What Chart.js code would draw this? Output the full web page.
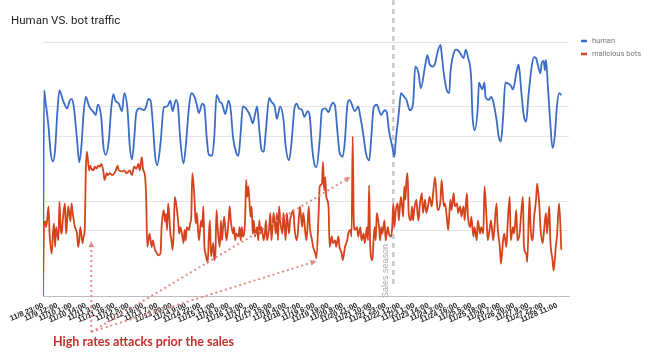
<!DOCTYPE html>
<html>
<head>
<meta charset="utf-8">
<script src="https://cdn.jsdelivr.net/npm/chart.js@4.4.1/dist/chart.umd.min.js"></script>
<style>
  html, body { margin: 0; padding: 0; background: #ffffff; }
  #wrap { width: 648px; height: 357px; }
</style>
</head>
<body>
<div id="wrap"><canvas id="c" width="648" height="357"></canvas></div>
<script>
// ---- Data (hours counted from 11/8 23:00) ----
const chartTitle = 'Human VS. bot traffic';
const seriesNames = ['human', 'malicious bots'];
const tickLabels = ['11/8 23:00','11/9 12:00','11/10 1:00','11/10 14:00','11/11 3:00','11/11 16:00','11/12 5:00','11/12 18:00','11/13 7:00','11/13 20:00','11/14 9:00','11/14 22:00','11/15 11:00','11/16 0:00','11/16 13:00','11/17 2:00','11/17 15:00','11/18 4:00','11/18 17:00','11/19 6:00','11/19 19:00','11/20 8:00','11/20 21:00','11/21 10:00','11/21 23:00','11/22 12:00','11/23 1:00','11/23 14:00','11/24 3:00','11/24 16:00','11/25 5:00','11/25 18:00','11/26 7:00','11/26 20:00','11/27 9:00','11/27 22:00','11/28 11:00'];
const tickStepHours = 13;
const lastHour = 479;

// human traffic (thousands)
const humanHours = [0,1,2,5,7,9,11,13,15,18,22,24,26,28,31,33,35,37,39,42,46,48,50,53,55,57,60,62,64,66,69,72,74,77,79,81,83,85,88,92,94,96,98,100,102,104,107,110,113,116,118,121,123,125,128,130,133,135,138,140,142,145,147,149,151,154,156,158,161,163,166,169,171,173,176,178,180,182,186,189,191,193,195,197,199,201,203,206,208,211,213,216,219,221,224,226,229,231,233,236,238,241,243,245,247,249,252,254,257,260,262,264,266,268,270,273,275,277,279,281,284,287,289,292,294,297,299,301,304,306,308,311,313,315,318,320,321,324,326,329,331,334,337,339,342,344,348,350,352,355,357,359,362,363,365,368,370,371,374,376,378,380,383,385,387,390,391,393,396,397,400,402,403,406,408,410,413,415,417,419,421,424,426,428,431,433,434,436,438,440,442,445,447,449,451,453,454,456,457,458,460,462,464,466,468,470,472];
const humanValues = [0,21.7,20.8,17.9,15.1,14.2,15.4,19.3,21.7,20.7,19.8,20.5,20.8,20.0,16.5,14.1,15.8,19.3,21.0,20.0,19.4,19.1,20.2,18.9,15.8,14.9,16.5,19.6,21.3,20.6,20.3,19.5,21.4,19.6,15.8,14.4,16.5,19.4,19.8,19.6,20.0,20.8,20.6,18.2,14.9,13.8,16.1,19.9,20.0,20.6,19.5,20.7,20.0,16.5,14.0,15.8,20.0,21.4,21.0,20.2,19.3,20.3,20.0,16.8,14.9,14.8,16.8,21.2,20.5,20.3,19.2,20.6,19.6,16.8,15.1,14.8,17.2,20.0,19.6,18.9,18.2,19.1,20.0,17.5,15.4,15.2,17.5,20.9,20.5,20.0,18.7,20.0,18.6,15.8,14.3,15.8,19.8,20.3,19.8,19.6,18.9,19.5,18.9,15.8,14.0,13.6,16.5,19.6,19.8,19.4,20.0,20.4,20.0,17.5,15.2,14.7,16.5,20.0,20.7,20.3,19.5,20.0,18.9,16.8,15.1,14.3,16.8,19.8,20.2,19.6,19.1,19.6,19.4,17.5,15.8,14.7,16.1,19.3,21.4,21.0,20.7,19.6,20.3,24.2,23.5,21.9,24.3,25.4,24.5,24.2,24.5,25.6,26.5,25.6,23.5,21.6,21.4,23.5,25.6,26.0,25.9,25.6,25.1,26.0,25.2,22.8,19.3,17.5,20.0,22.5,21.8,22.5,21.0,20.7,21.0,20.5,18.6,16.8,16.3,18.9,22.5,22.4,22.2,21.8,23.5,24.4,23.7,21.0,18.9,18.4,21.0,24.2,25.2,25.1,24.2,23.5,24.5,24.8,23.8,24.9,21.7,18.2,15.6,16.8,20.0,21.4,21.2];

// malicious bot traffic (hundreds)
const botHours = [0,1,2,3,5,6,8,9,10,11,12,14,15,16,17,18,20,21,22,23,25,26,27,28,29,31,32,33,34,36,37,38,39,40,42,43,44,46,47,49,50,52,53,55,56,58,59,61,63,66,68,69,72,74,76,79,81,83,85,87,88,90,91,93,94,95,97,98,99,100,102,104,105,107,108,110,111,112,113,114,116,117,118,119,120,122,123,124,125,127,128,129,130,131,133,134,135,136,138,139,140,141,142,144,145,146,147,148,150,151,152,153,155,156,157,158,159,161,162,163,164,165,167,168,169,170,171,173,174,175,176,178,179,180,181,182,184,185,186,187,189,190,191,192,193,195,196,197,198,199,201,202,203,204,206,207,208,209,210,212,213,214,215,216,218,219,220,221,222,224,225,226,228,229,231,232,234,236,237,239,240,242,243,245,246,248,249,251,252,254,255,256,257,258,260,261,263,264,266,267,269,270,272,273,275,277,278,280,281,282,283,284,286,287,289,290,292,293,295,296,297,298,300,301,302,303,304,306,307,308,309,311,312,313,314,315,317,318,319,320,321,323,324,325,326,328,329,330,331,332,333,335,336,337,338,340,341,342,343,345,346,348,349,351,352,354,355,357,359,360,362,363,365,366,368,369,371,372,374,375,377,378,380,381,383,384,386,387,389,390,392,393,395,396,398,399,401,402,404,405,407,408,410,411,413,414,416,417,419,420,422,423,425,426,428,429,431,432,434,435,437,438,440,441,443,444,446,447,449,450,452,453,455,456,458,459,461,462,464,465,467,468,470,472];
const botValues = [3.1,10.8,11.0,10.4,12.6,9.7,7.6,9.7,10.8,8.3,10.4,9.0,13.1,10.4,9.7,11.1,12.9,9.7,11.1,12.6,11.0,12.9,11.9,11.1,10.4,9.7,8.3,9.0,10.4,8.7,9.4,10.1,16.4,18.4,16.4,16.9,16.6,16.4,16.8,16.6,16.9,16.8,17.1,16.3,15.4,16.1,15.9,16.1,15.9,16.3,16.9,16.4,16.3,16.4,16.1,16.4,15.9,16.8,16.6,17.1,16.4,17.8,16.6,15.7,13.3,8.3,9.7,9.0,8.3,9.0,8.0,7.6,7.4,7.6,10.4,12.2,11.0,11.8,10.1,12.9,9.7,9.0,8.0,9.7,13.6,12.2,11.1,9.7,10.4,9.4,8.7,10.1,9.0,10.4,10.1,10.8,11.5,16.1,13.3,10.8,11.9,10.4,9.0,11.1,10.4,12.6,8.3,7.6,6.6,9.4,11.1,7.3,8.7,6.9,7.6,12.2,10.4,8.3,11.1,9.0,10.4,11.5,9.0,9.7,11.1,12.6,11.1,9.7,10.4,9.0,9.7,9.4,10.4,9.0,10.4,9.4,11.1,15.4,13.6,14.7,11.5,12.6,9.7,11.1,9.4,10.4,9.0,11.1,9.7,10.4,9.0,9.7,11.1,9.0,10.4,11.9,9.0,10.4,11.9,9.7,11.9,9.0,12.6,11.1,9.7,11.9,10.4,9.0,11.9,9.7,11.1,11.6,12.2,10.4,9.0,9.7,12.6,10.4,11.9,9.7,9.0,12.6,10.4,9.0,8.3,7.6,7.1,11.9,14.7,15.0,17.3,14.3,15.7,13.6,12.6,8.3,9.4,8.7,9.0,8.3,9.4,8.3,7.6,6.9,8.3,9.0,9.7,10.1,9.4,20.0,11.1,10.1,10.4,9.4,10.4,9.0,9.7,8.7,10.4,9.0,14.8,8.3,6.9,9.0,10.4,9.0,11.9,10.4,9.0,10.4,9.7,11.1,9.0,9.7,10.4,9.7,9.4,10.4,12.9,10.4,11.9,12.9,11.1,12.6,13.6,11.5,14.7,13.3,15.4,16.1,11.9,11.1,12.6,11.1,12.2,13.3,11.9,11.1,12.6,14.0,11.9,13.3,11.9,12.9,13.6,12.6,13.6,15.7,12.6,12.2,13.3,15.4,12.6,12.9,11.1,10.1,13.3,12.2,14.0,12.6,12.9,11.9,12.6,11.5,12.6,11.1,14.0,11.5,10.4,11.5,9.4,10.4,9.0,11.1,9.7,10.4,9.7,14.7,11.1,9.0,10.4,11.1,9.0,10.1,12.9,10.4,8.3,6.5,9.0,9.7,8.3,10.4,13.6,9.0,10.4,9.7,12.2,9.0,9.7,11.1,13.6,8.3,7.6,6.7,13.6,10.4,9.0,11.1,13.3,15.0,12.6,10.4,8.7,9.7,11.9,9.7,12.6,9.0,6.9,5.8,8.3,9.4,12.9,8.0];

// annotations (data space: hour, bot level)
const salesStartHour = 319;
const salesLabel = 'Sales season';
const noteText = 'High rates attacks prior the sales';
const arrowOrigin = [44, -0.7];
const arrowTargets = [[44, 8.9], [249, 6.8], [280, 15.7]];

const toPoints = (hs, vs) => hs.map((h, i) => ({ x: h, y: vs[i] }));

function drawArrow(ctx, x1, y1, x2, y2) {
  const ang = Math.atan2(y2 - y1, x2 - x1);
  const head = 6;
  const bx = x2 - Math.cos(ang) * head, by = y2 - Math.sin(ang) * head;
  ctx.beginPath();
  ctx.setLineDash([2, 3]);
  ctx.moveTo(x1, y1);
  ctx.lineTo(bx, by);
  ctx.stroke();
  ctx.setLineDash([]);
  ctx.beginPath();
  ctx.moveTo(x2, y2);
  ctx.lineTo(bx + Math.cos(ang + Math.PI / 2) * 3, by + Math.sin(ang + Math.PI / 2) * 3);
  ctx.lineTo(bx + Math.cos(ang - Math.PI / 2) * 3, by + Math.sin(ang - Math.PI / 2) * 3);
  ctx.closePath();
  ctx.fill();
}

const annotationPlugin = {
  id: 'annotationPlugin',
  beforeDatasetsDraw(chart) {
    const { ctx, scales: { x } } = chart;
    const sx = x.getPixelForValue(salesStartHour);
    ctx.save();
    ctx.strokeStyle = '#cacaca';
    ctx.lineWidth = 2.5;
    ctx.setLineDash([5, 4]);
    ctx.beginPath();
    ctx.moveTo(sx, 0);
    ctx.lineTo(sx, chart.chartArea.bottom - 10);
    ctx.stroke();
    ctx.setLineDash([]);
    ctx.translate(sx - 5.5, 298);
    ctx.rotate(-Math.PI / 2);
    ctx.font = '9px "Liberation Sans"';
    ctx.fillStyle = '#a9a9a9';
    ctx.textAlign = 'left';
    ctx.textBaseline = 'alphabetic';
    ctx.fillText(salesLabel, 0, 0);
    ctx.restore();
  },
  afterDatasetsDraw(chart) {
    const { ctx, scales: { x, yBots } } = chart;
    ctx.save();
    ctx.strokeStyle = '#df8d8b';
    ctx.fillStyle = '#df8d8b';
    ctx.lineWidth = 2;
    const ox = x.getPixelForValue(arrowOrigin[0]);
    const oy = yBots.getPixelForValue(arrowOrigin[1]);
    arrowTargets.forEach(([h, v]) => {
      drawArrow(ctx, ox, oy, x.getPixelForValue(h), yBots.getPixelForValue(v));
    });
    ctx.restore();
  },
  afterDraw(chart) {
    const { ctx } = chart;
    ctx.save();
    ctx.font = 'bold 12.5px Lato';
    ctx.fillStyle = '#c3302b';
    ctx.textAlign = 'left';
    ctx.textBaseline = 'alphabetic';
    ctx.fillText(noteText, 53, 346, 181);
    // legend
    ctx.font = '7.5px Roboto';
    ctx.textBaseline = 'middle';
    chart.data.datasets.forEach((ds, i) => {
      const y = 41 + i * 13;
      ctx.fillStyle = ds.borderColor;
      ctx.fillRect(581, y - 1.25, 6, 2.5);
      ctx.fillStyle = '#777777';
      ctx.fillText(ds.label, 592, y);
    });
    ctx.restore();
  }
};

new Chart(document.getElementById('c'), {
  type: 'line',
  data: {
    datasets: [
      {
        label: seriesNames[0],
        data: toPoints(humanHours, humanValues),
        yAxisID: 'yHuman',
        borderColor: '#3b6cc8',
        borderWidth: 1.8,
        pointRadius: 0,
        cubicInterpolationMode: 'monotone',
        fill: false,
        order: 1
      },
      {
        label: seriesNames[1],
        data: toPoints(botHours, botValues),
        yAxisID: 'yBots',
        borderColor: '#d5431d',
        borderWidth: 1.8,
        pointRadius: 0,
        cubicInterpolationMode: 'monotone',
        fill: false,
        order: 0
      }
    ]
  },
  options: {
    responsive: false,
    animation: false,
    devicePixelRatio: 1,
    layout: { padding: { left: 11, right: 79, top: 0, bottom: 0 } },
    plugins: {
      legend: { display: false },
      tooltip: { enabled: false },
      title: {
        display: true,
        text: chartTitle,
        align: 'start',
        color: '#222222',
        font: { family: 'Roboto', size: 11.5, weight: 'normal', lineHeight: 1.2 },
        padding: { top: 14, bottom: 14.2 }
      }
    },
    scales: {
      x: {
        type: 'linear',
        min: 0,
        max: lastHour,
        grid: { display: false, drawTicks: false },
        border: { display: true, color: '#bdbdbd', dash: [2, 2], width: 1 },
        ticks: {
          stepSize: tickStepHours,
          includeBounds: false,
          autoSkip: false,
          minRotation: 23,
          maxRotation: 23,
          padding: 5,
          color: '#1e1e1e',
          font: { family: 'Liberation Sans', size: 7.5, weight: 'bold' },
          callback: (v) => tickLabels[Math.round(v / tickStepHours)] ?? ''
        },
        afterFit: (s) => { s.height = 61; }
      },
      yHuman: {
        type: 'linear',
        position: 'left',
        min: 0,
        max: 26.8,
        ticks: { display: false, stepSize: 10 },
        border: { display: false },
        grid: { drawTicks: false, color: (c) => c.index === 0 ? 'rgba(0,0,0,0)' : '#e4e4e4' },
        afterFit: (s) => { s.width = 32; }
      },
      yBots: {
        type: 'linear',
        position: 'right',
        min: 3.1,
        max: 30,
        ticks: { display: false, stepSize: 10 },
        border: { display: false },
        grid: { drawTicks: false, color: (c) => c.index === 0 ? 'rgba(0,0,0,0)' : '#e4e4e4' },
        afterFit: (s) => { s.width = 0; }
      }
    }
  },
  plugins: [annotationPlugin]
});
</script>
</body>
</html>
